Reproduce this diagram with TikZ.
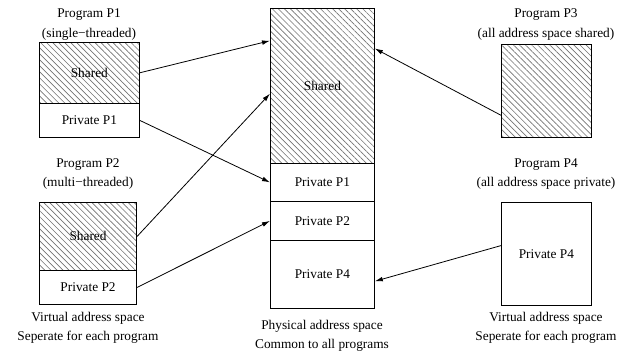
\documentclass[tikz,border=0pt]{standalone}
\usepackage{fontspec}
\setmainfont{Liberation Serif}
\usetikzlibrary{patterns.meta,calc,arrows.meta}
\begin{document}
\begin{tikzpicture}[x=.75pt,y=-.75pt,
  blk/.style={draw,semithick,inner sep=0pt,anchor=north west,font=\fontsize{10}{12}\selectfont},
  shrd/.style={blk,pattern={Lines[angle=-45,distance=3.2pt,line width=.5pt]},pattern color=black!55},
  lbl/.style={align=center,font=\fontsize{10}{14.5}\selectfont},
  arr/.style={-{Latex[length=6pt,width=3.5pt]},semithick}]
\useasboundingbox (0,0) rectangle (635,352);
% program P1
\node[shrd,minimum width=75pt,minimum height=45.75pt] (s1) at (39,42) {Shared};
\node[blk,minimum width=75pt,minimum height=25.5pt] (p1) at (39,103) {Private P1};
\node[lbl] (t1) at (89,24.5) {Program P1\\(single−threaded)};
% program P2
\node[shrd,minimum width=73pt,minimum height=51pt] (s2) at (39,202) {Shared};
\node[blk,minimum width=73pt,minimum height=25.5pt] (p2) at (39,270) {Private P2};
\node[lbl] (t2) at (88,174) {Program P2\\(multi−threaded)};
\node[lbl] (v1) at (88,328) {Virtual address space\\Seperate for each program};
% physical memory
\node[shrd,minimum width=78pt,minimum height=116.25pt] (ms) at (270,8) {Shared};
\node[blk,minimum width=78pt,minimum height=28.5pt] (m1) at (270,163) {Private P1};
\node[blk,minimum width=78pt,minimum height=29.25pt] (m2) at (270,201) {Private P2};
\node[blk,minimum width=78pt,minimum height=51pt] (m4) at (270,240) {Private P4};
\node[lbl] (pm) at (322,336) {Physical address space\\Common to all programs};
% programs P3 and P4
\node[shrd,minimum width=67.5pt,minimum height=69.75pt] (s3) at (501,44) {};
\node[lbl] (t3) at (546,24.5) {Program P3\\(all address space shared)};
\node[blk,minimum width=67.5pt,minimum height=77.25pt] (p4) at (501,202) {Private P4};
\node[lbl] (t4) at (546,174) {Program P4\\(all address space private)};
\node[lbl] (v2) at (546,328) {Virtual address space\\Seperate for each program};
% mappings
\draw[arr] (s1.east) -- ($(ms.north west)!.21!(ms.south west)$);
\draw[arr] (p1.east) -- (m1.west);
\draw[arr] (s2.east) -- ($(ms.north west)!.55!(ms.south west)$);
\draw[arr] (p2.east) -- (m2.west);
\draw[arr] ($(s3.north west)!.76!(s3.south west)$) -- ($(ms.north east)!.26!(ms.south east)$);
\draw[arr] ($(p4.north west)!.42!(p4.south west)$) -- ($(m4.north east)!.6!(m4.south east)$);
\end{tikzpicture}
\end{document}
